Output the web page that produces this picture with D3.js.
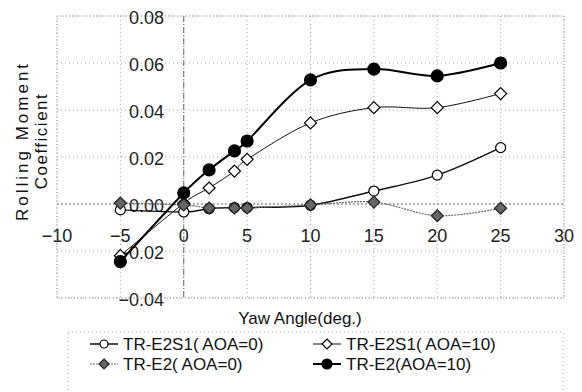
<!DOCTYPE html>
<html>
<head>
<meta charset="utf-8">
<script src="https://cdn.jsdelivr.net/npm/d3@7"></script>
<style>
  body { margin: 0; background: #fff; }
  svg { display: block; font-family: "Liberation Sans", Arial, sans-serif; }
</style>
</head>
<body>
<svg id="chart" width="582" height="392"></svg>
<script>
// yaw angles (deg.)
const yaw = [-5, 0, 2, 4, 5, 10, 15, 20, 25];
// rolling moment coefficient per configuration
const e2s1Aoa0 = [-0.0025, -0.0034, -0.002, -0.0015, -0.0015, -0.0005, 0.0055, 0.0123, 0.024];
const e2s1Aoa10 = [-0.022, 0.0003, 0.0068, 0.014, 0.019, 0.0345, 0.041, 0.041, 0.047];
const e2Aoa0 = [0.0004, -0.0004, -0.0017, -0.0017, -0.0017, -0.0004, 0.0008, -0.005, -0.0018];
const e2Aoa10 = [-0.0245, 0.0047, 0.0145, 0.0226, 0.0268, 0.0528, 0.0574, 0.0545, 0.060];

const xTicks = [-10, -5, 0, 5, 10, 15, 20, 25, 30];
const yTicks = [-0.04, -0.02, 0, 0.02, 0.04, 0.06, 0.08];
const seriesNames = ['TR-E2S1( AOA=0)', 'TR-E2S1( AOA=10)', 'TR-E2( AOA=0)', 'TR-E2(AOA=10)'];

const svg = d3.select('#chart');
const x = d3.scaleLinear().domain([-10, 30]).range([57, 564]);
const y = d3.scaleLinear().domain([-0.04, 0.08]).range([298, 16]);

// grid
const grid = svg.append('g').attr('stroke', '#aaa').attr('stroke-dasharray', '1,3');
grid.selectAll('.hg').data(yTicks).enter().append('line')
  .attr('x1', x(-10)).attr('x2', x(30))
  .attr('y1', d => y(d)).attr('y2', d => y(d));
grid.selectAll('.vg').data(xTicks).enter().append('line')
  .attr('y1', y(0.08)).attr('y2', y(-0.04))
  .attr('x1', d => x(d)).attr('x2', d => x(d));

// axes through zero
svg.append('line').attr('x1', x(0)).attr('x2', x(0)).attr('y1', y(0.08)).attr('y2', y(-0.04))
  .attr('stroke', '#666').attr('stroke-dasharray', '6,2,1,2');
svg.append('line').attr('x1', x(-10)).attr('x2', x(30)).attr('y1', y(0)).attr('y2', y(0))
  .attr('stroke', '#777').attr('stroke-dasharray', '2,2');

// tick labels
svg.append('g').selectAll('text').data(yTicks).enter().append('text')
  .attr('x', 164).attr('y', d => y(d) + 8)
  .attr('text-anchor', 'end').attr('font-size', 18).attr('fill', '#222')
  .text(d => d3.format('.2f')(d).replace('-', '\u2212'));
svg.append('g').selectAll('text').data(xTicks).enter().append('text')
  .attr('x', d => x(d)).attr('y', 242)
  .attr('text-anchor', 'middle').attr('font-size', 18).attr('fill', '#222')
  .text(d => String(d).replace('-', '\u2212'));

// titles
svg.append('text')
  .attr('transform', 'translate(28,141) rotate(-90)')
  .attr('text-anchor', 'middle').attr('font-size', 17).attr('letter-spacing', 3)
  .attr('fill', '#111').text('Rolling Moment');
svg.append('text')
  .attr('transform', 'translate(47,141) rotate(-90)')
  .attr('text-anchor', 'middle').attr('font-size', 17).attr('letter-spacing', 1.5)
  .attr('fill', '#111').text('Coefficient');
svg.append('text').attr('x', 300).attr('y', 324)
  .attr('text-anchor', 'middle').attr('font-size', 17).attr('fill', '#111')
  .text('Yaw Angle(deg.)');

// series
const series = [
  {vals: e2s1Aoa0, stroke: '#111', width: 1.5, dash: null, marker: 'circle', fill: '#fff', r: 5},
  {vals: e2s1Aoa10, stroke: '#111', width: 1, dash: null, marker: 'diamond', fill: '#fff', r: 6},
  {vals: e2Aoa0, stroke: '#666', width: 1.2, dash: '2,1', marker: 'diamond', fill: '#666', r: 6},
  {vals: e2Aoa10, stroke: '#000', width: 2, dash: null, marker: 'circle', fill: '#000', r: 6}
];

const line = d3.line()
  .x(d => x(d[0])).y(d => y(d[1]))
  .curve(d3.curveCardinal.tension(0));

function drawMarker(g, s, cx, cy) {
  if (s.marker === 'circle') {
    g.append('circle').attr('cx', cx).attr('cy', cy).attr('r', s.r)
      .attr('fill', s.fill).attr('stroke', '#000').attr('stroke-width', 1.2);
  } else {
    const r = s.r;
    g.append('path').attr('d', `M${cx},${cy - r}L${cx + r},${cy}L${cx},${cy + r}L${cx - r},${cy}Z`)
      .attr('fill', s.fill).attr('stroke', s.fill === '#fff' ? '#000' : '#222').attr('stroke-width', 1.2);
  }
}

series.forEach(s => {
  const pts = yaw.map((v, i) => [v, s.vals[i]]);
  const g = svg.append('g');
  g.append('path').attr('d', line(pts)).attr('fill', 'none')
    .attr('stroke', s.stroke).attr('stroke-width', s.width)
    .attr('stroke-dasharray', s.dash);
  pts.forEach(p => drawMarker(g, s, x(p[0]), y(p[1])));
});

// plot frame
svg.append('rect').attr('x', x(-10)).attr('y', y(0.08))
  .attr('width', x(30) - x(-10)).attr('height', y(-0.04) - y(0.08))
  .attr('fill', 'none').attr('stroke', '#999').attr('stroke-dasharray', '1,2');

// legend
const lg = svg.append('g');
lg.append('rect').attr('x', 68).attr('y', 332).attr('width', 495).attr('height', 70)
  .attr('fill', 'none').attr('stroke', '#aaa').attr('stroke-dasharray', '1,3');
const legendPos = [[90, 344], [313, 344], [90, 364], [313, 364]];
series.forEach((s, i) => {
  const [lx, ly] = legendPos[i];
  lg.append('line').attr('x1', lx).attr('x2', lx + 28).attr('y1', ly).attr('y2', ly)
    .attr('stroke', s.stroke).attr('stroke-width', s.width).attr('stroke-dasharray', s.dash);
  drawMarker(lg, Object.assign({}, s, {r: s.r - 1}), lx + 14, ly);
  lg.append('text').attr('x', lx + 33).attr('y', ly + 6)
    .attr('font-size', 17).attr('fill', '#111').text(seriesNames[i]);
});
</script>
</body>
</html>
